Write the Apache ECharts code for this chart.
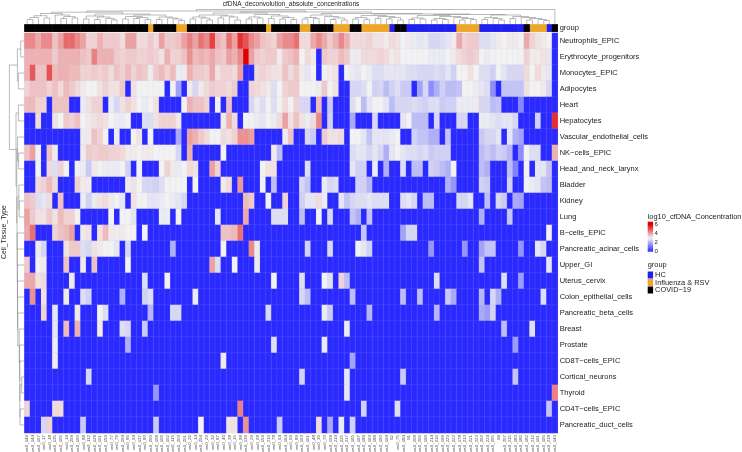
<!DOCTYPE html>
<html>
<head>
<meta charset="utf-8">
<style>
    html, body { margin: 0; padding: 0; background: #fff; }
    #main { width: 742px; height: 452px; }
</style>
<script src="https://cdn.jsdelivr.net/npm/echarts@6/dist/echarts.min.js"></script>
</head>
<body>
<div id="main"></div>
<script>
const sampleLabels = [
    'ws0_149','ws0_144','ws0_107','ws0_17','ws0_18','ws0_135','ws0_105','ws0_19','ws0_209','ws0_160',
    'ws0_88','ws0_112','ws0_128','ws0_101','ws0_150','ws0_77','ws0_79','ws0_104','ws0_86','ws0_94',
    'ws0_137','ws0_80','ws0_200','ws0_108','ws0_106','ws0_102','ws0_115','ws0_203','ws0_201','ws0_26',
    'ws0_14','ws0_204','ws0_20','ws0_32','ws0_87','ws0_46','ws0_38','ws0_15','ws0_98','ws0_139',
    'ws0_29','ws0_68','ws0_159','ws0_210','ws0_78','ws0_64','ws0_164','ws0_69','ws0_89','ws0_103',
    'ws0_161','ws0_48','ws0_30','ws0_70','ws0_109','ws0_219','ws0_225','ws0_217','ws0_165','ws0_197',
    'ws0_189','ws0_193','ws0_188','ws0_190','ws0_194','S2','ws0_75','ws0_184','S1','ws0_208',
    'ws0_206','ws0_196','ws0_214','ws0_216','ws0_199','ws0_220','ws0_222','ws0_178','ws0_213','ws0_221',
    'ws0_223','ws0_202','ws0_224','ws0_205','S9','ws0_207','ws0_215','ws0_183','ws0_186','ws0_182',
    'ws0_212','ws0_191','ws0_195','ws0_218','ws0_140'
];

const tissueLabels = [
    'Neutrophils_EPIC','Erythrocyte_progenitors','Monocytes_EPIC','Adipocytes','Heart','Hepatocytes',
    'Vascular_endothelial_cells','NK\u2212cells_EPIC','Head_and_neck_larynx','Bladder','Kidney','Lung',
    'B\u2212cells_EPIC','Pancreatic_acinar_cells','Upper_GI','Uterus_cervix','Colon_epithelial_cells',
    'Pancreatic_beta_cells','Breast','Prostate','CD8T\u2212cells_EPIC','Cortical_neurons','Thyroid',
    'CD4T\u2212cells_EPIC','Pancreatic_duct_cells'
];

// runs of the annotation strip: [group index, number of columns]
const groupNames = ['HC', 'Influenza & RSV', 'COVID\u221219'];
const groupColors = ['#1f1ff0', '#eea62a', '#000000'];
const groupRuns = [[2,22],[1,1],[2,4],[1,2],[2,14],[1,1],[2,5],[1,2],[2,4],[1,3],[2,2],[1,5],[0,1],[2,2],[0,9],[1,4],[0,8],[2,1],[1,3],[0,1],[2,1]];

// log10 concentrations, first rows are dense
const neutrophils = [
    4.3,4.3,3.9,4.3,4.3,3.6,4.0,4.7,4.7,4.3,
    4.0,3.4,3.4,3.8,3.5,3.5,3.5,3.3,4.0,4.0,
    3.3,3.3,3.5,3.3,4.0,3.5,3.5,3.6,4.0,4.4,
    4.0,4.6,4.3,5.2,3.8,3.6,4.6,4.0,5.4,5.0,
    4.3,4.0,3.6,3.5,3.4,4.0,4.3,4.3,4.6,3.3,
    3.3,3.9,4.3,3.9,3.5,3.8,4.3,3.8,3.3,3.3,
    3.3,3.4,3.2,3.2,3.1,3.3,3.2,3.0,3.1,2.9,
    2.8,2.9,2.6,2.6,2.7,2.8,3.1,3.9,3.4,3.5,
    3.5,2.7,2.7,2.8,3.1,3.0,3.1,3.1,3.0,3.9,
    3.4,3.2,3.1,3.0,0
];
const erythrocyte = [
    3.8,3.8,3.8,3.8,3.8,3.5,3.8,3.8,3.8,3.8,
    3.6,3.5,4.4,3.8,3.8,3.8,3.5,3.4,3.5,3.5,
    3.4,3.4,3.5,3.4,3.2,3.8,3.4,3.4,3.6,4.2,
    3.7,3.8,3.7,3.9,3.6,3.5,4.0,3.8,4.3,6.0,
    4.0,3.5,3.4,3.5,3.5,3.1,3.5,3.6,3.8,3.0,
    3.3,3.1,0,3.5,3.4,3.4,3.7,3.5,2.9,3.1,
    3.3,3.3,3.3,3.4,3.3,3.1,3.2,3.0,3.0,3.0,
    3.0,3.0,2.9,2.9,2.9,3.0,3.1,3.3,3.4,3.5,
    3.4,3.0,2.9,3.0,3.0,3.0,3.0,3.0,3.0,3.4,
    3.1,3.1,3.2,2.8,0
];
const monocytes = [
    3.8,4.9,3.6,3.6,5.0,3.7,3.8,3.8,3.7,3.7,
    3.4,3.4,3.5,3.4,3.5,3.3,3.6,3.4,3.7,3.4,
    3.6,3.5,3.1,3.5,3.7,3.4,3.7,2.9,3.1,3.8,
    3.5,3.5,3.4,3.9,3.2,3.4,3.4,3.3,4.0,0,
    0,3.3,3.4,3.3,3.2,3.2,3.6,3.3,3.5,3.1,
    2.8,3.0,0,3.0,3.1,3.2,0,3.0,2.9,2.8,
    3.0,2.9,2.7,2.7,2.8,2.8,2.8,2.8,2.7,2.7,
    2.6,2.6,2.6,2.7,2.6,2.8,2.5,3.0,3.0,3.2,
    3.0,2.7,2.7,2.5,3.0,2.8,2.6,2.6,2.6,3.3,
    3.0,3.3,3.1,2.8,0
];
const adipocytes = [
    3.4,3.6,3.6,3.6,3.4,3.6,3.3,3.7,3.5,3.3,
    3.1,3.0,3.0,3.2,3.4,3.2,3.2,3.5,0,3.2,
    3.0,3.0,3.0,3.0,3.0,0,3.0,1.8,0,3.1,
    2.6,3.1,3.3,3.5,3.4,3.4,3.3,3.5,0,0,
    3.4,3.3,3.2,3.1,2.7,3.0,3.4,3.5,3.5,3.0,
    3.0,3.0,3.1,3.5,3.0,3.2,0,0,2.6,2.6,
    2.7,3.0,2.5,2.6,2.2,2.5,2.7,2.4,2.4,0,
    1.8,2.6,1.5,2.0,2.5,2.2,2.2,2.3,3.0,3.0,
    2.9,2.8,2.7,1.5,0,2.3,2.3,2.3,2.3,3.2,
    3.0,3.0,3.1,2.6,0
];
const heart = [
    3.7,3.7,3.4,3.4,0,3.6,3.6,3.6,0,0,
    2.9,3.2,3.4,3.4,0,2.9,2.6,3.2,3.4,3.2,
    3.0,2.9,3.0,3.2,0,0,0,0,3.0,3.8,
    3.6,3.6,3.4,0,3.0,0,3.6,0,0,0,
    2.6,2.9,2.7,3.0,2.7,3.0,3.3,3.0,3.4,2.6,
    2.6,0,3.7,0,2.4,0,0,0,2.7,3.0,
    2.2,2.8,3.0,3.0,2.8,2.2,2.6,2.6,2.6,2.7,
    2.6,2.5,2.7,2.7,2.4,2.5,2.5,2.9,2.9,2.9,
    3.1,2.6,2.6,2.2,2.3,0,0,0,1.4,0,
    0,0,0,0,0
];
// sparse rows: column index -> value, everything else is 0
const hepatocytes = {2:3.3,5:3.2,6:3.0,7:3.5,8:3.4,9:3.6,10:3.0,11:3.1,12:3.2,13:3.3,14:3.2,15:3.0,16:2.9,17:2.9,18:3.0,21:2.7,22:2.7,23:3.2,24:3.4,25:3.4,26:3.4,27:3.1,35:3.1,36:3.8,37:3.3,39:3.0,40:3.0,41:2.9,42:2.8,43:3.0,44:2.9,45:3.3,46:4.0,47:3.2,48:3.6,49:3.2,50:2.9,51:3.3,52:4.3,54:2.5,58:1.9,62:2.6,67:2.8,68:3.0,69:2.2,70:2.2,71:2.2,73:2.6,77:2.6,78:2.6,81:2.9,82:2.9,83:2.8,84:2.7,85:2.8,86:2.8,87:2.6,91:2.5,94:5.4};
const vascular = {10:3.1,11:3.1,12:3.6,13:3.4,14:3.0,16:2.9,19:3.0,20:3.2,22:3.0,27:1.9,29:4.0,30:3.8,31:3.5,32:3.3,33:3.0,34:3.0,35:3.3,36:3.2,37:3.4,38:4.2,39:4.2,40:4.0,46:3.1,47:3.6,50:2.6,51:2.4,53:3.5,54:3.2,55:3.2,56:3.3,58:3.0,59:3.0,60:2.8,61:2.3,62:2.8,63:2.8,64:2.8,65:2.9,66:3.0,69:2.5,70:2.3,71:2.3,72:2.0,73:2.0,75:2.3,81:2.4,82:2.6,83:2.6,84:2.8,86:2.8,87:2.0,88:1.8};
const nkCells = {0:3.6,1:4.0,2:3.0,4:3.6,5:3.1,10:3.1,11:3.5,12:3.4,13:3.5,14:3.5,15:3.4,16:3.4,17:3.3,18:3.1,19:3.1,20:3.0,21:3.1,22:3.1,23:3.0,24:3.0,25:3.0,26:3.0,27:2.6,29:3.8,35:3.0,44:3.1,45:2.2,58:2.7,59:2.8,60:2.8,61:2.6,62:2.8,63:2.6,64:2.0,65:2.8,66:3.0,67:2.8,68:2.7,69:2.7,70:2.6,71:2.7,72:2.4,73:2.5,74:2.5,75:2.5,81:2.2,82:2.4,83:2.2,84:2.5,85:2.4,86:2.1,88:1.5,89:3.0,90:2.7,91:2.7,94:3.8};
const headNeck = {2:3.0,4:3.3,5:2.7,6:3.4,7:3.0,9:3.0,10:2.9,11:2.4,12:3.1,13:3.0,14:2.9,15:2.9,16:2.9,17:3.0,18:2.5,20:3.0,24:3.0,25:3.4,26:3.1,27:2.9,28:3.0,29:3.3,30:3.2,33:4.0,34:3.4,42:3.0,43:3.2,44:3.2,50:2.7,58:2.8,59:2.5,60:2.5,62:2.9,64:2.0,67:2.7,69:2.2,70:2.2,72:2.5,73:2.4,74:2.2,75:2.0,76:3.0,81:2.2,82:2.0,86:2.2,87:1.3,89:3.0,91:2.8,92:2.8,93:2.3};
const bladder = {2:3.3,3:3.4,4:3.7,5:3.3,9:3.4,10:3.1,11:3.1,18:3.1,19:3.2,20:3.0,21:2.6,22:2.6,23:2.5,24:2.7,25:3.0,26:3.0,27:3.0,28:3.0,30:3.0,35:3.1,36:3.3,38:4.1,42:3.0,44:2.2,49:2.6,50:2.3,53:2.9,54:2.6,55:2.7,59:2.5,60:2.5,61:2.1,75:2.0,76:1.6,81:2.5,82:2.4,86:2.5,89:3.0,90:2.9,91:2.8,92:2.3,93:2.2};
const kidney = {0:3.6,1:3.5,2:2.7,3:2.8,4:3.3,6:3.6,10:2.9,11:2.5,12:2.9,13:3.2,14:3.3,15:3.1,16:3.0,17:2.8,19:3.2,20:3.0,21:3.0,22:2.8,23:2.8,24:2.9,25:3.0,26:2.9,27:2.8,28:2.6,39:3.7,40:3.5,43:3.0,46:3.4,49:2.5,50:2.8,51:2.8,52:3.3,53:2.9,56:2.8,57:2.3,58:2.6,59:2.7,60:2.7,61:2.8,62:2.7,63:2.7,64:2.7,67:2.7,68:2.8,69:2.6,71:2.2,72:2.2,77:2.6,78:2.6,79:2.8,82:2.2,84:2.6,85:2.4,87:1.9,88:1.8};
const lung = {0:4.0,1:3.5,2:3.2,3:3.2,4:3.5,5:3.2,6:3.7,7:3.4,8:3.4,9:3.0,15:3.0,17:3.0,18:3.0,19:2.8,24:2.9,25:2.9,27:3.0,34:2.8,39:3.9,44:2.7,45:2.7,46:2.7,49:2.2,52:3.0,54:2.6,58:2.3,59:2.0,61:2.3,81:2.0,86:2.3};
const bCells = {0:3.9,1:4.6,5:3.4,6:3.6,7:3.7,8:4.0,10:3.1,11:3.2,13:3.2,14:3.7,15:3.1,16:3.1,17:3.1,18:3.0,19:3.0,21:3.0,35:3.6,36:3.6,37:3.7,38:4.6,60:2.3,67:1.8,68:2.6,69:2.6,93:3.0};
const pancAcinar = {2:3.1,3:2.6,7:3.2,8:3.5,9:3.5,10:2.7,11:2.6,12:3.2,13:3.1,14:3.0,15:3.0,16:2.8,18:2.6,26:2.0,35:3.0,40:4.3,41:3.1,50:2.5,54:2.6,59:3.0,60:2.8,61:2.5,72:1.6,78:1.6,81:1.8,82:2.3,83:2.3,88:1.6,91:2.8,92:2.6};
const upperGI = {0:3.5,2:3.0,3:3.1,7:3.6,10:3.1,12:3.6,18:3.0,33:4.0,34:2.7,37:3.0,41:3.1,81:2.3,93:2.8};
const uterus = {0:3.9,1:3.9,2:3.2,3:3.3,8:3.1,21:2.7,25:3.0,44:3.0,49:2.7,53:3.0,54:2.7,56:3.4,57:2.2,73:2.7,85:2.7,88:1.7};
const colon = {1:4.2,3:3.2,7:3.1,10:2.7,11:2.5,17:2.0,21:2.5,22:2.7,30:2.9,49:2.6,50:2.2,58:2.2,67:2.2,70:2.2,75:2.4,76:1.9,81:2.1,83:2.6,84:2.0,92:2.7};
const pancBeta = {3:3.4,5:2.8,9:3.1,13:3.0,14:2.7,22:2.1,26:2.6,27:2.6,43:2.6,53:2.9,54:2.4,61:2.1,73:2.1,81:1.9,82:1.7,83:2.5};
const breast = {5:2.8,7:3.7,9:3.8,13:3.1,17:2.7,18:2.6,21:2.4,57:2.9,85:2.2,90:2.7};
const prostate = {5:2.9,18:2.0,44:2.7,53:2.9,87:1.7};
const cd8t = {5:3.1,35:3.1,58:1.8};
const cortical = {11:2.6,49:2.5,57:2.8,67:2.4,87:2.3};
const thyroid = {23:1.6,57:2.8,94:4.4};
const cd4t = {0:3.4,5:3.3,6:3.3,38:4.4,60:2.5,66:2.7,93:2.3};
const pancDuct = {3:2.6,4:3.4,10:2.4,23:2.4,31:3.0,36:3.2,37:3.2,39:4.2,45:2.4,52:3.3,54:1.9,56:2.9,58:2.5};

const tissueRows = [
    neutrophils, erythrocyte, monocytes, adipocytes, heart, hepatocytes, vascular, nkCells, headNeck,
    bladder, kidney, lung, bCells, pancAcinar, upperGI, uterus, colon, pancBeta, breast, prostate,
    cd8t, cortical, thyroid, cd4t, pancDuct
];

// dendrograms: [merge height, left, right], a plain number is a leaf
const colTreeLeft = [11.8,
    [10.5, [8.3,[6.6,[4.5,0,1],2],[6,3,4]], [9,5,[7.5,[5.5,6,7],[6,8,9]]]],
    [10, [8,[5,10,11],[7,[4.5,12,13],[5.5,14,[4,15,16]]]],
        [9, [7.5,[5,17,18],[6.5,[5.5,19,20],[4.5,21,22]]], [7,[4.5,23,24],[6,25,[5,26,[3.5,27,28]]]]]]
];
const colTreeRight = [12,
    [11, [9,[7,[5,29,30],[6,31,[4,32,33]]],[8,[6,34,35],[7,36,[4,37,38]]]],
        [9.5,[7,[5,39,40],[6,41,42]],[8,[5.5,43,44],[6.5,[5,45,46],[4.5,47,48]]]]],
    [10.5, [9,[6.5,[5,49,50],[5.5,51,52]],[7.5,53,[6,[4.5,54,55],[4,56,57]]]],
        [10, [8.5,[6.5,[5,58,59],[4.5,60,61]],[7.5,[5.5,62,63],[6.5,[5,64,65],[4,66,67]]]],
            [9.5, [8.5,[6,[4.5,68,69],[5,70,71]],[7.5,[5.5,[4,72,73],[4.5,74,75]],[6.5,76,[5.5,[4,77,78],[4.5,79,80]]]]],
                [9,[6.5,[4.5,81,82],[5.5,83,[4,84,85]]],[7.5,[5.5,86,87],[6.5,88,[5.5,[4,89,90],[4.5,91,[3.5,92,93]]]]]]]]]
];
const colTree = [14.5, [13, colTreeLeft, colTreeRight], 94];
const rowTree = [15,
    [7,[3.7,0,1],[6,2,3]],
    [8.4, [6,4,5],
        [7.6, [6.8,6,[5.8,7,8]],
            [7.4, [5.6,9,[5.2,10,11]],
                [7.2,12,[7.1,13,[7,14,[6.9,15,[6.8,16,[6.6,17,
                    [5.2,18,[4.8,19,[4.6,20,[4.5,[2.7,21,22],[4.4,23,24]]]]]]]]]]]]]]
];

const legendValues = [6.6];
const legendTicks = 2;

let heatData = [];
tissueRows.forEach((row, r) => {
    sampleLabels.forEach((s, c) => {
        heatData.push([c, r, row[c] || 0]);
    });
});

let stripData = [[], [], []];
let col = 0;
groupRuns.forEach(run => {
    for (let i = 0; i < run[1]; i++) {
        stripData[run[0]].push([col, 0, 1]);
        col++;
    }
});

// walks a tree and returns its segments as [leafPos1, height1, leafPos2, height2]
function treeSegments(node, segments) {
    if (typeof node === 'number') return { pos: node + 0.5, h: 0 };
    const a = treeSegments(node[1], segments);
    const b = treeSegments(node[2], segments);
    segments.push([a.pos, a.h, a.pos, node[0]]);
    segments.push([b.pos, b.h, b.pos, node[0]]);
    segments.push([a.pos, node[0], b.pos, node[0]]);
    return { pos: (a.pos + b.pos) / 2, h: node[0] };
}
let colSegments = [];
treeSegments(colTree, colSegments);
let rowSegments = [];
treeSegments(rowTree, rowSegments);

function dendroSeries(data, xIndex, yIndex, swap) {
    return {
        type: 'custom',
        xAxisIndex: xIndex,
        yAxisIndex: yIndex,
        silent: true,
        clip: false,
        data: data,
        renderItem: function (params, api) {
            let p1, p2;
            if (swap) {
                p1 = api.coord([api.value(1), api.value(0)]);
                p2 = api.coord([api.value(3), api.value(2)]);
            } else {
                p1 = api.coord([api.value(0), api.value(1)]);
                p2 = api.coord([api.value(2), api.value(3)]);
            }
            return {
                type: 'line',
                shape: { x1: p1[0], y1: p1[1], x2: p2[0], y2: p2[1] },
                style: { stroke: '#777', lineWidth: 0.5, fill: null }
            };
        }
    };
}

const fontName = '"Liberation Sans", Arial, sans-serif';
const hidden = { show: false };
const plainAxis = {
    axisLine: hidden, axisTick: hidden, splitLine: hidden, axisLabel: hidden
};

let chart = echarts.init(document.getElementById('main'), null, { renderer: 'canvas' });

let series = [
    {
        type: 'heatmap',
        xAxisIndex: 0,
        yAxisIndex: 0,
        data: heatData,
        silent: true,
        itemStyle: { borderColor: 'rgba(200,200,255,0.28)', borderWidth: 0.4 }
    }
];
groupNames.forEach((name, i) => {
    series.push({
        name: name,
        type: 'heatmap',
        xAxisIndex: 1,
        yAxisIndex: 1,
        data: stripData[i],
        silent: true,
        itemStyle: { color: groupColors[i] }
    });
});
series.push(dendroSeries(colSegments, 2, 2, false));
series.push(dendroSeries(rowSegments, 3, 3, true));
series.push({
    type: 'bar',
    xAxisIndex: 4,
    yAxisIndex: 4,
    barWidth: '100%',
    silent: true,
    data: legendValues,
    itemStyle: {
        color: new echarts.graphic.LinearGradient(0, 1, 0, 0, [
            { offset: 0, color: '#2a2aff' },
            { offset: 3 / 6.6, color: '#f2f2f2' },
            { offset: 6 / 6.6, color: '#e00000' },
            { offset: 1, color: '#e00000' }
        ])
    }
});

let option = {
    backgroundColor: '#fff',
    animation: false,
    textStyle: { fontFamily: fontName },
    title: [
        {
            text: 'cfDNA_deconvolution_absolute_concentrations',
            left: 291, top: 0.5, padding: 0, textAlign: 'center',
            textStyle: { fontSize: 6.5, fontWeight: 'normal', color: '#222', fontFamily: fontName }
        },
        {
            text: 'log10_cfDNA_Concentration',
            left: 647.7, top: 213, padding: 0,
            textStyle: { fontSize: 7.4, fontWeight: 'normal', color: '#222', fontFamily: fontName }
        },
        {
            text: 'group',
            left: 647.7, top: 261.5, padding: 0,
            textStyle: { fontSize: 7.4, fontWeight: 'normal', color: '#222', fontFamily: fontName }
        }
    ],
    grid: [
        { left: 24.4, top: 33, width: 533.3, height: 400, outerBoundsMode: 'none' },
        { left: 24.4, top: 24.4, width: 533.3, height: 7.3, outerBoundsMode: 'none' },
        { left: 24.4, top: 2, width: 533.3, height: 22, outerBoundsMode: 'none' },
        { left: 2.4, top: 33, width: 22, height: 400, outerBoundsMode: 'none' },
        { left: 647.7, top: 221.7, width: 5.4, height: 30, outerBoundsMode: 'none' }
    ],
    xAxis: [
        {
            type: 'category', gridIndex: 0, data: sampleLabels,
            axisLine: hidden, axisTick: hidden, splitLine: hidden,
            axisLabel: { interval: 0, rotate: 90, fontSize: 4.4, color: '#555', margin: 2, fontFamily: fontName }
        },
        Object.assign({ type: 'category', gridIndex: 1, data: sampleLabels }, plainAxis),
        Object.assign({ type: 'value', gridIndex: 2, min: 0, max: 95 }, plainAxis),
        Object.assign({ type: 'value', gridIndex: 3, min: 0, max: 22, inverse: true }, plainAxis),
        Object.assign({ type: 'category', gridIndex: 4, data: [''] }, plainAxis)
    ],
    yAxis: [
        {
            type: 'category', gridIndex: 0, data: tissueLabels, inverse: true, position: 'right',
            axisLine: hidden, axisTick: hidden, splitLine: hidden,
            axisLabel: { interval: 0, fontSize: 7.5, color: '#222', margin: 2, fontFamily: fontName }
        },
        {
            type: 'category', gridIndex: 1, data: ['group'], position: 'right',
            axisLine: hidden, axisTick: hidden, splitLine: hidden,
            axisLabel: { fontSize: 7.5, color: '#222', margin: 2, fontFamily: fontName }
        },
        Object.assign({ type: 'value', gridIndex: 2, min: 0, max: 22 }, plainAxis),
        Object.assign({ type: 'value', gridIndex: 3, min: 0, max: 25, inverse: true }, plainAxis),
        {
            type: 'value', gridIndex: 4, min: 0, max: 6.6, interval: legendTicks, position: 'right',
            axisLine: hidden, axisTick: hidden, splitLine: hidden,
            axisLabel: { fontSize: 6, color: '#222', margin: 1.5, fontFamily: fontName }
        }
    ],
    visualMap: {
        show: false,
        seriesIndex: 0,
        min: 0,
        max: 6,
        inRange: { color: ['#2a2aff', '#f2f2f2', '#e00000'] }
    },
    legend: {
        orient: 'vertical',
        left: 647.7,
        top: 271.5,
        padding: 0,
        itemWidth: 5.4,
        itemHeight: 7,
        itemGap: 0.5,
        icon: 'rect',
        data: groupNames,
        selectedMode: false,
        textStyle: { fontSize: 7.4, color: '#222', padding: [0, 0, 0, -3], fontFamily: fontName }
    },
    graphic: [
        {
            type: 'text',
            x: 4.5, y: 232,
            rotation: Math.PI / 2,
            style: {
                text: 'Cell_Tissue_Type',
                fontSize: 6.8,
                fontFamily: fontName,
                fill: '#222',
                textAlign: 'center',
                textVerticalAlign: 'middle'
            }
        }
    ],
    series: series
};

chart.setOption(option);
</script>
</body>
</html>
